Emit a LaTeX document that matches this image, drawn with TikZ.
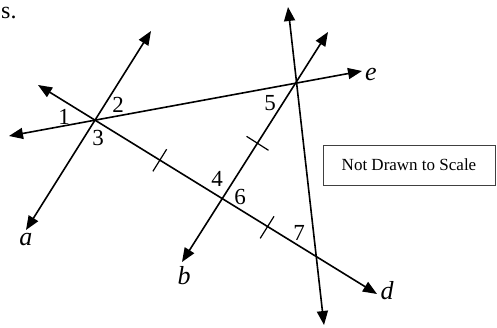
\documentclass[tikz,border=0pt]{standalone}
\usepackage{fontspec}
\setmainfont{Liberation Serif}
\usetikzlibrary{arrows.meta,calc}
\begin{document}
\begin{tikzpicture}[x=1pt,y=-1pt,
  ln/.style={line width=1.6pt,{Triangle[length=14pt,width=11pt]}-{Triangle[length=14pt,width=11pt]}},
  tk/.style={line width=1.2pt},
  num/.style={font=\fontsize{23}{23}\selectfont,inner sep=0pt},
  lab/.style={font=\fontsize{26}{26}\selectfont\itshape,inner sep=0pt}]
\useasboundingbox (0,0) rectangle (497,328);
% intersections
\coordinate (P1) at (95,120);
\coordinate (P2) at (296,83);
\coordinate (P3) at (222,199);
\coordinate (P4) at (316,258);
% tips
\coordinate (eL) at (9,136);
\coordinate (eR) at (362,71);
\coordinate (aU) at (151,31);
\coordinate (aD) at (26,230);
\coordinate (dU) at (38,85);
\coordinate (dD) at (377,294);
\coordinate (bU) at (328,32);
\coordinate (bD) at (182,262);
\coordinate (cU) at (288,7);
\coordinate (cD) at (324,325);
% lines
\draw[ln] (eL) -- (eR);
\draw[ln] (aD) -- (aU);
\draw[ln] (dU) -- (dD);
\draw[ln] (bD) -- (bU);
\draw[ln] (cU) -- (cD);
% ticks
\coordinate (t1) at ($(P1)!0.51!(P3)$);
\coordinate (t2) at ($(P3)!0.48!(P2)$);
\coordinate (t3) at ($(P3)!0.48!(P4)$);
\draw[tk] ($(t1)!13pt!90:(P3)$) -- ($(t1)!13pt!-90:(P3)$);
\draw[tk] ($(t2)!13pt!90:(P2)$) -- ($(t2)!13pt!-90:(P2)$);
\draw[tk] ($(t3)!13pt!90:(P4)$) -- ($(t3)!13pt!-90:(P4)$);
% angle numbers
\node[num] (n1) at (64,117) {1};
\node[num] (n2) at (118,105) {2};
\node[num] (n3) at (98,138) {3};
\node[num] (n4) at (217,179) {4};
\node[num] (n5) at (270,103) {5};
\node[num] (n6) at (240,197) {6};
\node[num] (n7) at (299,233) {7};
% line labels
\node[lab] (le) at (371,75) {e};
\node[lab] (la) at (26,240) {a};
\node[lab] (lb) at (184,276) {b};
\node[lab] (ld) at (387,291) {d};
% box
\node[draw=black!75, line width=0.9pt, minimum width=172pt, minimum height=40pt,
  font=\fontsize{17}{18}\selectfont] (box) at (409,165) {Not Drawn to Scale};
% cut-off text
\node[anchor=base west, inner sep=0pt, font=\fontsize{24}{24}\selectfont] (top) at (1,19) {s.};
\end{tikzpicture}
\end{document}
